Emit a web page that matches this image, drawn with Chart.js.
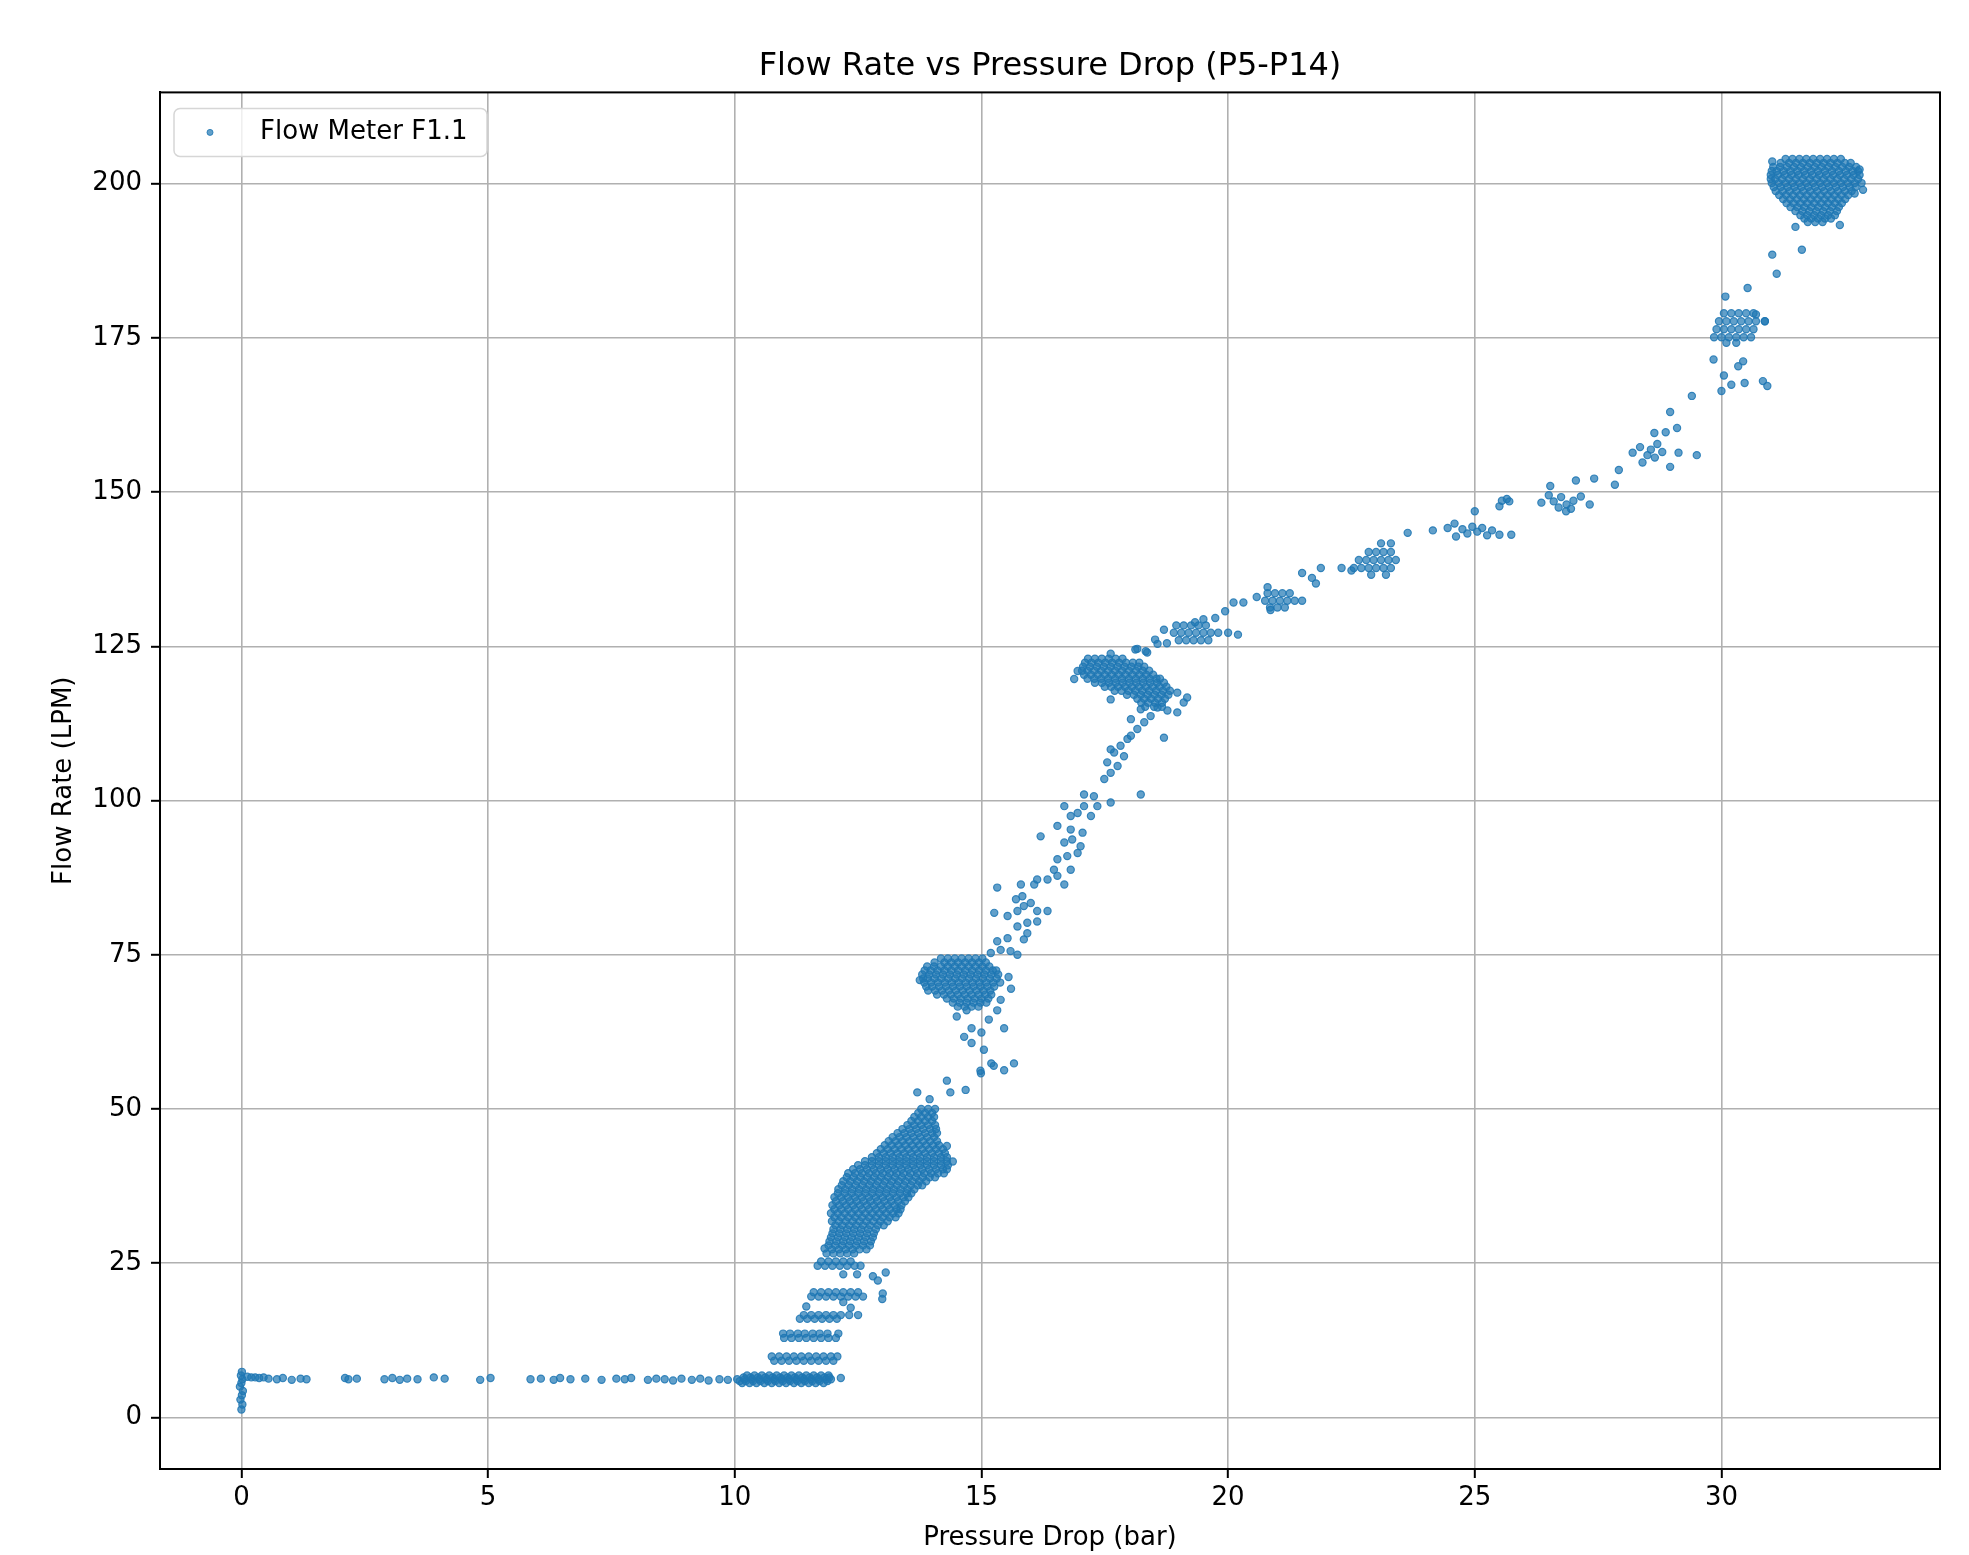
<!DOCTYPE html>
<html>
<head>
<meta charset="utf-8">
<title>Flow Rate vs Pressure Drop (P5-P14)</title>
<script src="https://cdn.jsdelivr.net/npm/chart.js@4.4.1/dist/chart.umd.min.js"></script>
<style>
  html, body { margin: 0; padding: 0; background: #fff; }
  #wrap { width: 1969px; height: 1555px; }
</style>
</head>
<body>
<div id="wrap"><canvas id="chart" width="1969" height="1555"></canvas></div>
<script>
const TITLE = 'Flow Rate vs Pressure Drop (P5-P14)';
const X_LABEL = 'Pressure Drop (bar)';
const Y_LABEL = 'Flow Rate (LPM)';
const SERIES_LABEL = 'Flow Meter F1.1';

const X_RANGE = [-1.65, 34.43];
const Y_RANGE = [-8.35, 214.8];
const X_STEP = 5;
const Y_STEP = 25;

// sparse points: [pressure, flow]
const idleSpike = [
  [0.00, 1.3], [0.02, 2.1], [-0.02, 2.9], [0.01, 3.6], [0.03, 4.3], [-0.03, 5.0],
  [0.00, 5.6], [0.02, 6.2], [-0.01, 6.8], [0.01, 7.4], [0.12, 6.6], [0.20, 6.5],
  [0.28, 6.5], [0.36, 6.4], [0.45, 6.5], [0.55, 6.3],
];

const idleTail = [
  [0.72, 6.2], [0.84, 6.4], [1.02, 6.1], [1.20, 6.3], [1.32, 6.2], [2.10, 6.4],
  [2.17, 6.2], [2.34, 6.3], [2.90, 6.2], [3.06, 6.4], [3.21, 6.1], [3.36, 6.3],
  [3.57, 6.2], [3.90, 6.5], [4.12, 6.3], [4.84, 6.1], [5.05, 6.4], [5.86, 6.2],
  [6.07, 6.3], [6.33, 6.1], [6.46, 6.4], [6.67, 6.2], [6.97, 6.3], [7.30, 6.1],
  [7.60, 6.3], [7.77, 6.2], [7.90, 6.4], [8.24, 6.1], [8.41, 6.3], [8.58, 6.2],
  [8.75, 6.0], [8.92, 6.3], [9.13, 6.1], [9.30, 6.3], [9.47, 6.0], [9.69, 6.2],
  [9.86, 6.1], [12.15, 6.4],
];

// dense bands: [flow, [pressures...]]
const idleBand = [
  [5.6, [10.15, 10.3, 10.44, 10.6, 10.75, 10.9, 11.04, 11.2, 11.35, 11.5, 11.64, 11.8]],
  [5.9, [10.1, 10.22, 10.37, 10.52, 10.67, 10.82, 10.97, 11.12, 11.27, 11.42, 11.57, 11.72, 11.88]],
  [6.2, [10.05, 10.2, 10.35, 10.5, 10.65, 10.8, 10.95, 11.1, 11.25, 11.4, 11.55, 11.7, 11.85, 11.95]],
  [6.5, [10.18, 10.32, 10.47, 10.62, 10.77, 10.92, 11.07, 11.22, 11.37, 11.52, 11.67, 11.82, 11.92]],
  [6.8, [10.25, 10.4, 10.55, 10.7, 10.85, 11.0, 11.15, 11.3, 11.45, 11.6, 11.75, 11.9]],
];

const stepRows = [
  [9.2, [10.8, 10.95, 11.1, 11.25, 11.4, 11.55, 11.7, 11.85, 12.0]],
  [9.9, [10.75, 10.9, 11.05, 11.2, 11.35, 11.5, 11.65, 11.8, 11.95, 12.08]],
  [12.9, [11.0, 11.15, 11.3, 11.45, 11.6, 11.75, 11.9, 12.05]],
  [13.6, [10.98, 11.12, 11.28, 11.42, 11.58, 11.72, 11.88, 12.1]],
  [16.0, [11.32, 11.47, 11.62, 11.77, 11.92, 12.07]],
  [16.6, [11.4, 11.55, 11.7, 11.85, 12.0, 12.15, 12.32, 12.5]],
  [19.6, [11.55, 11.7, 11.85, 12.0, 12.15, 12.3, 12.45, 12.6]],
  [20.3, [11.6, 11.75, 11.9, 12.05, 12.2, 12.35, 12.5]],
  [24.6, [11.68, 11.83, 11.98, 12.13, 12.28, 12.43, 12.55]],
  [25.3, [11.75, 11.9, 12.05, 12.2, 12.35]],
];

const stepScatter = [
  [12.99, 19.2], [11.45, 18.0], [12.2, 18.7], [12.35, 17.8], [12.2, 23.2],
  [12.48, 23.2], [12.8, 22.9], [13.06, 23.5], [12.9, 22.2], [13.0, 20.1],
];

const rampRows = [
  [26.6, [11.86, 12.0, 12.14, 12.28, 12.42]],
  [27.25, [11.97, 12.11, 12.25, 12.39, 12.53, 12.67]],
  [27.9, [11.9, 12.04, 12.18, 12.32, 12.46, 12.6, 12.74]],
  [28.55, [11.92, 12.06, 12.2, 12.34, 12.48, 12.62, 12.76]],
  [29.2, [11.95, 12.09, 12.23, 12.37, 12.51, 12.65, 12.8]],
  [29.85, [11.98, 12.12, 12.26, 12.4, 12.54, 12.68, 12.82]],
  [30.5, [12.0, 12.14, 12.28, 12.42, 12.56, 12.7, 12.86]],
  [31.15, [12.04, 12.18, 12.32, 12.46, 12.6, 12.74, 12.9, 13.02]],
  [31.8, [11.97, 12.11, 12.25, 12.39, 12.53, 12.67, 12.81, 12.95, 13.1]],
  [32.45, [12.02, 12.16, 12.3, 12.44, 12.58, 12.72, 12.86, 13.0, 13.14, 13.26]],
  [33.1, [11.95, 12.09, 12.23, 12.37, 12.51, 12.65, 12.79, 12.93, 13.07, 13.21, 13.32]],
  [33.75, [12.02, 12.16, 12.3, 12.44, 12.58, 12.72, 12.86, 13.0, 13.14, 13.28, 13.36]],
  [34.4, [11.98, 12.12, 12.26, 12.4, 12.54, 12.68, 12.82, 12.96, 13.1, 13.24, 13.38]],
  [35.05, [12.05, 12.19, 12.33, 12.47, 12.61, 12.75, 12.89, 13.03, 13.17, 13.31, 13.45]],
  [35.7, [12.02, 12.16, 12.3, 12.44, 12.58, 12.72, 12.86, 13.0, 13.14, 13.28, 13.42, 13.52]],
  [36.35, [12.09, 12.23, 12.37, 12.51, 12.65, 12.79, 12.93, 13.07, 13.21, 13.35, 13.49, 13.58]],
  [37.0, [12.1, 12.24, 12.38, 12.52, 12.66, 12.8, 12.94, 13.08, 13.22, 13.36, 13.5, 13.64]],
  [37.65, [12.17, 12.31, 12.45, 12.59, 12.73, 12.87, 13.01, 13.15, 13.29, 13.43, 13.57, 13.71, 13.8]],
  [38.3, [12.2, 12.34, 12.48, 12.62, 12.76, 12.9, 13.04, 13.18, 13.32, 13.46, 13.6, 13.74, 13.88]],
  [38.95, [12.27, 12.41, 12.55, 12.69, 12.83, 12.97, 13.11, 13.25, 13.39, 13.53, 13.67, 13.81, 13.95, 14.06]],
  [39.6, [12.3, 12.44, 12.58, 12.72, 12.86, 13.0, 13.14, 13.28, 13.42, 13.56, 13.7, 13.84, 13.98, 14.12, 14.24]],
  [40.25, [12.4, 12.54, 12.68, 12.82, 12.96, 13.1, 13.24, 13.38, 13.52, 13.66, 13.8, 13.94, 14.08, 14.22, 14.3]],
  [40.9, [12.5, 12.64, 12.78, 12.92, 13.06, 13.2, 13.34, 13.48, 13.62, 13.76, 13.9, 14.04, 14.18, 14.32]],
  [41.55, [12.64, 12.78, 12.92, 13.06, 13.2, 13.34, 13.48, 13.62, 13.76, 13.9, 14.04, 14.18, 14.3]],
  [42.2, [12.78, 12.92, 13.06, 13.2, 13.34, 13.48, 13.62, 13.76, 13.9, 14.04, 14.18, 14.3]],
  [42.85, [12.88, 13.02, 13.16, 13.3, 13.44, 13.58, 13.72, 13.86, 14.0, 14.14, 14.26]],
  [43.5, [12.96, 13.1, 13.24, 13.38, 13.52, 13.66, 13.8, 13.94, 14.08, 14.22]],
  [44.15, [13.04, 13.18, 13.32, 13.46, 13.6, 13.74, 13.88, 14.02, 14.14]],
  [44.8, [13.12, 13.26, 13.4, 13.54, 13.68, 13.82, 13.96, 14.1]],
  [45.45, [13.2, 13.34, 13.48, 13.62, 13.76, 13.9, 14.04]],
  [46.1, [13.3, 13.44, 13.58, 13.72, 13.86, 14.0, 14.1]],
  [46.75, [13.4, 13.54, 13.68, 13.82, 13.96, 14.08]],
  [47.4, [13.5, 13.64, 13.78, 13.92, 14.06]],
  [48.05, [13.58, 13.72, 13.86, 14.0]],
  [48.7, [13.64, 13.78, 13.92, 14.04]],
  [49.35, [13.72, 13.86, 14.0]],
  [50.0, [13.78, 13.92, 14.06]],
];

const rampScatter = [
  [14.3, 44.0], [14.42, 41.5], [13.7, 52.7], [13.95, 51.6], [14.37, 52.7],
  [14.68, 53.1], [14.3, 54.6], [14.98, 56.2], [15.25, 57.0], [11.82, 27.4],
];

const midRows = [
  [74.4, [14.18, 14.32, 14.46, 14.6, 14.74, 14.88, 15.02]],
  [73.75, [14.05, 14.25, 14.39, 14.53, 14.67, 14.81, 14.95, 15.09]],
  [73.1, [13.9, 14.04, 14.18, 14.32, 14.46, 14.6, 14.74, 14.88, 15.02, 15.16]],
  [72.45, [13.85, 13.97, 14.11, 14.25, 14.39, 14.53, 14.67, 14.81, 14.95, 15.09, 15.23, 15.3]],
  [71.8, [13.8, 13.94, 14.08, 14.22, 14.36, 14.5, 14.64, 14.78, 14.92, 15.06, 15.2, 15.34]],
  [71.15, [13.82, 13.91, 14.05, 14.19, 14.33, 14.47, 14.61, 14.75, 14.89, 15.03, 15.17, 15.31]],
  [70.5, [13.84, 13.98, 14.12, 14.26, 14.4, 14.54, 14.68, 14.82, 14.96, 15.1, 15.24, 15.38]],
  [69.85, [13.88, 14.0, 14.14, 14.28, 14.42, 14.56, 14.7, 14.84, 14.98, 15.12, 15.26]],
  [69.2, [13.92, 14.06, 14.2, 14.34, 14.48, 14.62, 14.76, 14.9, 15.04, 15.18]],
  [68.55, [14.1, 14.24, 14.38, 14.52, 14.66, 14.8, 14.94, 15.08, 15.2]],
  [67.9, [14.3, 14.44, 14.58, 14.72, 14.86, 15.0, 15.14]],
  [67.25, [14.42, 14.56, 14.7, 14.84, 14.98, 15.1]],
  [66.6, [14.52, 14.66, 14.8, 14.94]],
];

const midScatter = [
  [13.75, 70.9], [15.55, 71.4], [15.6, 69.5], [14.5, 65.0], [14.8, 63.1], [14.65, 61.7],
  [14.8, 60.7], [15.05, 59.6], [15.2, 57.4], [15.46, 56.3], [14.99, 55.8], [15.66, 57.4],
  [15.39, 67.7], [15.32, 66.0], [15.46, 63.1], [15.0, 62.4], [15.15, 64.5], [14.7, 66.0],
  [15.19, 75.3], [15.39, 75.8], [15.59, 75.6], [15.73, 75.0], [15.32, 77.2], [15.53, 77.7],
  [15.86, 77.5], [15.93, 78.5], [15.73, 79.6], [15.93, 80.2], [16.13, 80.4], [15.26, 81.8],
  [15.53, 81.3], [15.73, 82.1], [15.86, 82.9], [16.13, 82.1], [16.34, 82.1], [15.7, 84.0],
  [15.83, 84.5], [16.0, 83.4], [15.32, 85.9], [15.8, 86.4], [16.07, 86.4], [16.13, 87.2],
  [16.34, 87.2], [16.54, 87.8], [16.68, 86.4], [16.47, 88.8], [16.81, 88.8], [16.54, 90.5],
  [16.74, 91.0], [16.95, 91.5], [16.2, 94.2], [16.68, 93.2], [16.84, 93.7], [17.01, 92.6],
  [16.54, 95.9], [16.81, 95.3], [17.05, 94.8], [16.81, 97.5], [16.95, 98.0], [17.22, 97.5],
  [16.68, 99.1], [17.08, 99.1], [17.35, 99.1], [17.08, 101.0], [17.28, 100.7], [17.62, 99.7],
  [18.23, 101.0], [17.49, 103.5], [17.62, 104.5], [17.76, 105.6], [17.55, 106.2], [17.89, 107.2],
  [17.69, 107.8], [17.82, 108.9], [17.96, 110.0], [17.62, 108.3], [18.03, 110.5], [18.7, 110.2],
  [18.16, 111.6], [18.3, 112.7], [18.03, 113.2], [18.43, 113.7], [18.23, 114.8], [18.57, 115.1],
];

const upperRows = [
  [123.0, [17.16, 17.3, 17.44, 17.58, 17.72, 17.86]],
  [122.35, [17.1, 17.23, 17.37, 17.51, 17.65, 17.79, 17.93, 18.07, 18.2]],
  [121.7, [17.06, 17.2, 17.34, 17.48, 17.62, 17.76, 17.9, 18.04, 18.18, 18.3]],
  [121.05, [17.04, 17.15, 17.29, 17.43, 17.57, 17.71, 17.85, 17.99, 18.13, 18.27, 18.4]],
  [120.4, [17.08, 17.22, 17.36, 17.5, 17.64, 17.78, 17.92, 18.06, 18.2, 18.34, 18.48]],
  [119.75, [17.15, 17.29, 17.43, 17.57, 17.71, 17.85, 17.99, 18.13, 18.27, 18.41, 18.55, 18.62]],
  [119.1, [17.3, 17.44, 17.58, 17.72, 17.86, 18.0, 18.14, 18.28, 18.42, 18.56, 18.7]],
  [118.45, [17.5, 17.63, 17.77, 17.91, 18.05, 18.19, 18.33, 18.47, 18.61, 18.75]],
  [117.8, [17.7, 17.84, 17.98, 18.12, 18.26, 18.4, 18.54, 18.68, 18.82]],
  [117.15, [17.95, 18.09, 18.23, 18.37, 18.51, 18.65, 18.79]],
  [116.5, [18.16, 18.3, 18.44, 18.58, 18.72]],
  [115.85, [18.24, 18.38, 18.52, 18.66]],
  [115.2, [18.32, 18.5, 18.66]],
  [128.4, [18.95, 19.1, 19.25, 19.4, 19.55]],
  [127.2, [18.9, 19.05, 19.2, 19.35, 19.5, 19.65, 19.8]],
  [126.0, [19.0, 19.15, 19.3, 19.45, 19.6]],
  [133.6, [20.8, 20.95, 21.1, 21.25]],
  [132.4, [20.75, 20.9, 21.05, 21.2, 21.35, 21.5]],
  [131.3, [20.85, 21.0, 21.15]],
  [140.3, [22.85, 23.0, 23.15, 23.3]],
  [139.0, [22.65, 22.8, 22.95, 23.1, 23.25, 23.4]],
  [137.7, [22.55, 22.7, 22.85, 23.0, 23.15, 23.3]],
  [136.6, [22.9, 23.2]],
];

const upperScatter = [
  [16.88, 119.7], [16.95, 121.0], [17.62, 116.4], [18.97, 117.5], [19.17, 116.7], [19.1, 115.9],
  [18.77, 114.6], [18.97, 114.3], [17.62, 123.8], [18.16, 124.6], [18.36, 124.0], [18.57, 125.4],
  [18.12, 124.5], [18.33, 124.2], [18.52, 126.1], [18.7, 127.7], [18.76, 125.5], [19.33, 128.9],
  [19.5, 129.4], [19.74, 129.6], [19.94, 130.7], [20.0, 127.2], [20.2, 126.9], [20.11, 132.1],
  [20.31, 132.1], [20.58, 133.0], [20.8, 134.6], [20.86, 130.9], [21.5, 136.9], [21.7, 136.1],
  [21.78, 135.2], [21.88, 137.7], [22.3, 137.7], [22.5, 137.3], [23.1, 141.7], [23.3, 141.7],
  [23.64, 143.4], [24.15, 143.8], [24.59, 144.9], [24.62, 142.8], [24.75, 144.0], [24.85, 143.3],
  [24.95, 144.4], [25.05, 143.6], [25.15, 144.2], [25.25, 143.0], [25.35, 143.8], [25.5, 143.1],
  [25.74, 143.1], [24.45, 144.2], [25.0, 146.9], [25.5, 147.7], [25.7, 148.5], [25.55, 148.6],
  [25.65, 148.9], [26.35, 148.3], [26.5, 149.5], [26.53, 151.0], [26.6, 148.5], [26.7, 147.5],
  [26.75, 149.2], [26.86, 148.0], [26.95, 147.3], [27.0, 148.6], [27.05, 151.9], [27.15, 149.3],
  [26.85, 146.9], [27.33, 148.0], [27.42, 152.2], [27.84, 151.2], [27.92, 153.6], [28.2, 156.4],
  [28.4, 154.8], [28.35, 157.3], [28.5, 156.0], [28.57, 156.9], [28.65, 155.6], [28.7, 157.8],
  [28.8, 156.5], [28.64, 159.6], [28.87, 159.7], [28.96, 154.1], [29.13, 156.4], [29.5, 156.0],
  [29.1, 160.4], [28.96, 163.0], [29.4, 165.6],
];

const highRows = [
  [179.0, [30.05, 30.2, 30.35, 30.5, 30.65]],
  [177.7, [29.95, 30.1, 30.25, 30.4, 30.55, 30.7, 30.88]],
  [176.4, [29.9, 30.05, 30.2, 30.35, 30.5, 30.65]],
  [175.1, [29.85, 30.0, 30.15, 30.3, 30.45, 30.6]],
  [174.2, [30.1, 30.3]],
  [204.0, [31.3, 31.44, 31.58, 31.72, 31.86, 32.0, 32.14, 32.28, 32.42]],
  [203.35, [31.2, 31.37, 31.51, 31.65, 31.79, 31.93, 32.07, 32.21, 32.35, 32.5, 32.62]],
  [202.7, [31.05, 31.19, 31.33, 31.47, 31.61, 31.75, 31.89, 32.03, 32.17, 32.31, 32.45, 32.59, 32.73]],
  [202.05, [31.02, 31.12, 31.26, 31.4, 31.54, 31.68, 31.82, 31.96, 32.1, 32.24, 32.38, 32.52, 32.66, 32.77]],
  [201.4, [31.0, 31.14, 31.28, 31.42, 31.56, 31.7, 31.84, 31.98, 32.12, 32.26, 32.4, 32.54, 32.68, 32.8]],
  [200.75, [31.0, 31.09, 31.23, 31.37, 31.51, 31.65, 31.79, 31.93, 32.07, 32.21, 32.35, 32.49, 32.63, 32.77]],
  [200.1, [31.02, 31.16, 31.3, 31.44, 31.58, 31.72, 31.86, 32.0, 32.14, 32.28, 32.42, 32.56, 32.7, 32.84]],
  [199.45, [31.06, 31.2, 31.34, 31.48, 31.62, 31.76, 31.9, 32.04, 32.18, 32.32, 32.46, 32.6, 32.72]],
  [198.8, [31.1, 31.24, 31.38, 31.52, 31.66, 31.8, 31.94, 32.08, 32.22, 32.36, 32.5, 32.64]],
  [198.15, [31.17, 31.31, 31.45, 31.59, 31.73, 31.87, 32.01, 32.15, 32.29, 32.43, 32.57]],
  [197.5, [31.25, 31.39, 31.53, 31.67, 31.81, 31.95, 32.09, 32.23, 32.37, 32.51]],
  [196.85, [31.32, 31.46, 31.6, 31.74, 31.88, 32.02, 32.16, 32.3, 32.44]],
  [196.2, [31.4, 31.54, 31.68, 31.82, 31.96, 32.1, 32.24, 32.38]],
  [195.55, [31.5, 31.64, 31.78, 31.92, 32.06, 32.2, 32.34]],
  [194.9, [31.6, 31.74, 31.88, 32.02, 32.16, 32.3]],
  [194.35, [31.68, 31.82, 31.96, 32.1, 32.22]],
  [193.8, [31.75, 31.9, 32.05]],
];

const highScatter = [
  [29.84, 171.5], [30.34, 170.4], [30.44, 171.2], [30.05, 168.9], [30.2, 167.4], [30.47, 167.7],
  [30.84, 168.0], [30.93, 167.2], [30.0, 166.4], [30.08, 181.7], [30.53, 183.1], [31.12, 185.4],
  [31.03, 188.5], [31.63, 189.3], [30.88, 177.7], [30.7, 178.8], [31.5, 193.0], [32.4, 193.3],
  [32.8, 202.3], [32.87, 199.0], [32.7, 198.4], [31.03, 203.6],
];

const FONT = "'DejaVu Sans', 'Liberation Sans', sans-serif";
const BLUE_FILL = 'rgba(31, 119, 180, 0.7)';
const BLUE_EDGE = 'rgba(31, 119, 180, 0.85)';

const fromPairs = (list) => list.map(([x, y]) => ({ x, y }));
const fromRows = (rows) => rows.flatMap(([y, xs]) => xs.map((x) => ({ x, y })));

const points = [
  ...fromPairs(idleSpike), ...fromPairs(idleTail), ...fromRows(idleBand),
  ...fromRows(stepRows), ...fromPairs(stepScatter),
  ...fromRows(rampRows), ...fromPairs(rampScatter),
  ...fromRows(midRows), ...fromPairs(midScatter),
  ...fromRows(upperRows), ...fromPairs(upperScatter),
  ...fromRows(highRows), ...fromPairs(highScatter),
];

// top and right spines like matplotlib
const frame = {
  id: 'frame',
  afterDraw(chart) {
    const { ctx, chartArea: a } = chart;
    ctx.save();
    ctx.strokeStyle = '#000';
    ctx.lineWidth = 2;
    ctx.strokeRect(a.left, a.top, a.right - a.left, a.bottom - a.top);
    ctx.restore();
  },
};

// legend box in the upper left corner of the axes
const legendBox = {
  id: 'legendBox',
  afterDraw(chart) {
    const { ctx, chartArea: a } = chart;
    const x = a.left + 14;
    const y = a.top + 16;
    ctx.save();
    ctx.beginPath();
    ctx.roundRect(x, y, 313, 48, 6);
    ctx.fillStyle = 'rgba(255, 255, 255, 0.8)';
    ctx.fill();
    ctx.strokeStyle = '#d6d6d6';
    ctx.lineWidth = 1.5;
    ctx.stroke();
    ctx.beginPath();
    ctx.arc(x + 36, y + 24, 3, 0, Math.PI * 2);
    ctx.fillStyle = BLUE_FILL;
    ctx.fill();
    ctx.strokeStyle = BLUE_EDGE;
    ctx.lineWidth = 1;
    ctx.stroke();
    ctx.fillStyle = '#000';
    ctx.font = `26px ${FONT}`;
    ctx.textBaseline = 'middle';
    ctx.fillText(chart.data.datasets[0].label, x + 86, y + 24);
    ctx.restore();
  },
};

const axisFont = { family: FONT, size: 26 };

new Chart(document.getElementById('chart'), {
  type: 'scatter',
  data: {
    datasets: [
      {
        label: SERIES_LABEL,
        data: points,
        pointRadius: 3.6,
        pointHoverRadius: 3.6,
        pointBorderWidth: 1.2,
        backgroundColor: BLUE_FILL,
        borderColor: BLUE_EDGE,
      },
    ],
  },
  options: {
    responsive: false,
    animation: false,
    devicePixelRatio: 1,
    events: [],
    layout: { padding: { left: 0, right: 29, top: 0, bottom: 0 } },
    plugins: {
      legend: { display: false },
      tooltip: { enabled: false },
      title: {
        display: true,
        fullSize: false,
        text: TITLE,
        color: '#000',
        font: { family: FONT, size: 32, weight: 'normal' },
        padding: { top: 47, bottom: 7 },
      },
    },
    scales: {
      x: {
        type: 'linear',
        min: X_RANGE[0],
        max: X_RANGE[1],
        z: 1,
        afterFit: (scale) => { scale.height = 86; },
        ticks: { stepSize: X_STEP, includeBounds: false, color: '#000', font: axisFont, padding: 5 },
        grid: { color: '#b0b0b0', lineWidth: 1.6, tickLength: 9, tickColor: '#000', tickWidth: 2 },
        border: { color: '#000', width: 2 },
        title: { display: true, text: X_LABEL, color: '#000', font: axisFont, padding: { top: 0, bottom: 1 } },
      },
      y: {
        type: 'linear',
        min: Y_RANGE[0],
        max: Y_RANGE[1],
        z: 1,
        afterFit: (scale) => { scale.width = 160; },
        ticks: { stepSize: Y_STEP, includeBounds: false, color: '#000', font: axisFont, padding: 9 },
        grid: { color: '#b0b0b0', lineWidth: 1.6, tickLength: 9, tickColor: '#000', tickWidth: 2 },
        border: { color: '#000', width: 2 },
        title: { display: true, text: Y_LABEL, color: '#000', font: axisFont, padding: { top: 49, bottom: 0 } },
      },
    },
  },
  plugins: [frame, legendBox],
});
</script>
</body>
</html>
